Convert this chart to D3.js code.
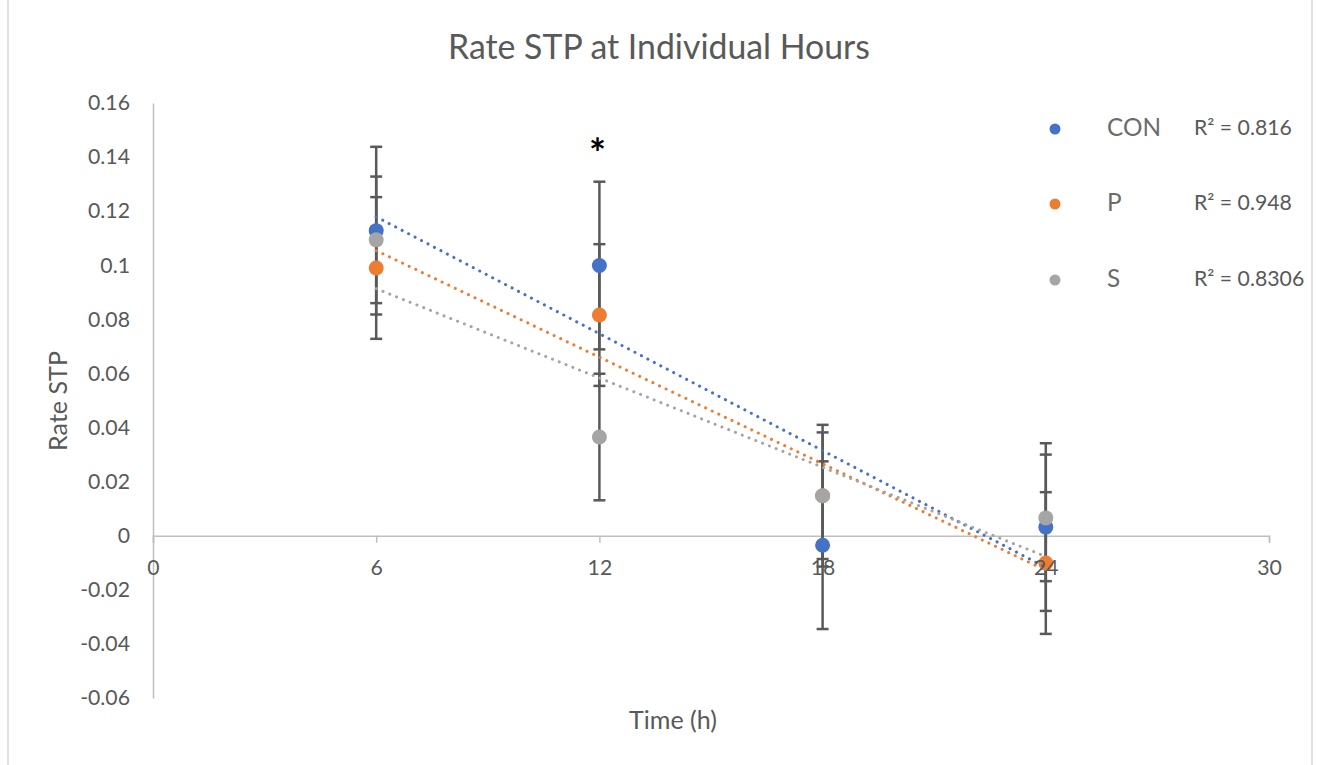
<!DOCTYPE html>
<html>
<head>
<meta charset="utf-8">
<script src="https://cdn.jsdelivr.net/npm/d3@7"></script>
<style>
  html, body { margin: 0; padding: 0; background: #fff; }
  svg { display: block; }
  text { font-family: "Lato", "Open Sans", sans-serif; }
</style>
</head>
<body>
<svg id="chart" width="1317" height="765"></svg>
<script>
// ---------------- data ----------------
const hours = [6, 12, 18, 24];
const seriesNames = ["CON", "P", "S"];
const conValues = [0.1128, 0.0999, -0.0035, 0.0032];
const pValues   = [0.0990, 0.0816, 0.0148, -0.0101];
const sValues   = [0.1094, 0.0365, 0.0148, 0.0066];
const conErr = [0.0310, 0.0310, 0.0310, 0.0310];
const pErr   = [0.0262, 0.0262, 0.0262, 0.0262];
const sErr   = [0.0234, 0.0234, 0.0234, 0.0234];
const r2Labels = ["R² = 0.816", "R² = 0.948", "R² = 0.8306"];
const xTicks = [0, 6, 12, 18, 24, 30];
const yTicks = [-0.06, -0.04, -0.02, 0, 0.02, 0.04, 0.06, 0.08, 0.1, 0.12, 0.14, 0.16];
const titleText = "Rate STP at Individual Hours";
const xTitle = "Time (h)";
const yTitle = "Rate STP";
const significanceMark = { hour: 12, value: 0.1435, label: "*" };

const colors = ["#4472C4", "#ED7D31", "#A5A5A5"];
const series = [
  { name: seriesNames[0], values: conValues, err: conErr, color: colors[0], r2: r2Labels[0] },
  { name: seriesNames[1], values: pValues,   err: pErr,   color: colors[1], r2: r2Labels[1] },
  { name: seriesNames[2], values: sValues,   err: sErr,   color: colors[2], r2: r2Labels[2] }
];

// ---------------- layout ----------------
const svg = d3.select("#chart");
const W = 1317, H = 765;
const x = d3.scaleLinear().domain([0, 30]).range([153, 1269]);
const y = d3.scaleLinear().domain([-0.06, 0.16]).range([698, 103]);
const textColor = "#595959";
const numFmt = d => String(+(+d).toFixed(2)); // plain hyphen minus like Excel

function fitFont(sel, target) {
  sel.style("font-size", "20px");
  const len = sel.node().getComputedTextLength();
  const size = 20 * target / len;
  sel.style("font-size", size + "px");
  return size;
}

// chart border
svg.append("line").attr("x1", 8).attr("x2", 8).attr("y1", 0).attr("y2", H)
  .attr("stroke", "#d9d9d9").attr("stroke-width", 1.5);
svg.append("line").attr("x1", 1312).attr("x2", 1312).attr("y1", 0).attr("y2", H)
  .attr("stroke", "#d9d9d9").attr("stroke-width", 1.5);

// title
const title = svg.append("text").attr("x", 659).attr("y", 59)
  .attr("text-anchor", "middle").attr("fill", textColor).text(titleText);
fitFont(title, 422);

// measure tick font size
const probe = svg.append("text").text("0.16");
const tickSize = fitFont(probe, 42);
probe.remove();

// ---------------- axes (lines) ----------------
const xAxisG = svg.append("g").attr("transform", `translate(0,${y(0)})`)
  .call(d3.axisBottom(x).tickValues(xTicks).tickSize(7).tickFormat(""));
xAxisG.select(".domain").attr("stroke", "#bfbfbf").attr("stroke-width", 1.5);
xAxisG.selectAll(".tick line").attr("stroke", "#bfbfbf").attr("stroke-width", 1.5);

const yAxisG = svg.append("g").attr("transform", `translate(${x(0)},0)`)
  .call(d3.axisLeft(y).tickValues(yTicks).tickSize(0).tickPadding(23).tickFormat(numFmt));
yAxisG.select(".domain").attr("stroke", "#bfbfbf").attr("stroke-width", 1.5);
yAxisG.selectAll(".tick text").attr("fill", textColor)
  .style("font-size", tickSize + "px").style("font-family", "Lato, 'Open Sans', sans-serif");

// ---------------- error bars ----------------
const errG = svg.append("g");
series.forEach(s => {
  hours.forEach((h, i) => {
    const v = s.values[i], e = s.err[i];
    const cx = x(h);
    errG.append("line").attr("x1", cx).attr("x2", cx)
      .attr("y1", y(v - e)).attr("y2", y(v + e))
      .attr("stroke", "#595959").attr("stroke-width", 2.5);
    [v - e, v + e].forEach(t => {
      errG.append("line").attr("x1", cx - 6).attr("x2", cx + 6)
        .attr("y1", y(t)).attr("y2", y(t))
        .attr("stroke", "#595959").attr("stroke-width", 2.5);
    });
  });
});

// ---------------- markers ----------------
const markG = svg.append("g");
series.forEach(s => {
  markG.selectAll(null).data(hours.map((h, i) => ({ h, v: s.values[i] })))
    .enter().append("circle")
    .attr("cx", d => x(d.h)).attr("cy", d => y(d.v)).attr("r", 7.5)
    .attr("fill", s.color);
});

// ---------------- linear trend lines ----------------
const trendG = svg.append("g");
series.forEach(s => {
  const mx = d3.mean(hours), my = d3.mean(s.values);
  let sxy = 0, sxx = 0;
  hours.forEach((h, i) => { sxy += (h - mx) * (s.values[i] - my); sxx += (h - mx) * (h - mx); });
  const slope = sxy / sxx, icpt = my - slope * mx;
  const ends = [d3.min(hours), d3.max(hours)];
  trendG.append("line")
    .attr("x1", x(ends[0])).attr("y1", y(icpt + slope * ends[0]))
    .attr("x2", x(ends[1])).attr("y2", y(icpt + slope * ends[1]))
    .attr("stroke", s.color).attr("stroke-width", 3)
    .attr("stroke-linecap", "round").attr("stroke-dasharray", "0.1 7.2");
});

// ---------------- x tick labels (on top) ----------------
const xLab = svg.append("g").attr("transform", `translate(0,${y(0)})`)
  .call(d3.axisBottom(x).tickValues(xTicks).tickSize(0).tickFormat(d3.format("d")));
xLab.select(".domain").remove();
xLab.selectAll(".tick text").attr("fill", textColor).attr("y", 39).attr("dy", 0)
  .style("font-size", tickSize + "px").style("font-family", "Lato, 'Open Sans', sans-serif");

// ---------------- axis titles ----------------
const xt = svg.append("text").attr("x", 673).attr("y", 729)
  .attr("text-anchor", "middle").attr("fill", textColor).text(xTitle);
const axisTitleSize = fitFont(xt, 88);
svg.append("text").attr("transform", "translate(67,401) rotate(-90)")
  .attr("text-anchor", "middle").attr("fill", textColor)
  .style("font-size", axisTitleSize + "px").text(yTitle);

// significance mark
svg.append("text").attr("x", x(significanceMark.hour) - 2).attr("y", y(significanceMark.value) + 20)
  .attr("text-anchor", "middle").attr("fill", "#000").style("font-weight", "bold")
  .style("font-size", "40px").text(significanceMark.label);

// ---------------- legend ----------------
const legendY = [129, 204, 280];
const legG = svg.append("g");
const probe2 = svg.append("text").text(seriesNames[0]);
const legNameSize = fitFont(probe2, 54);
probe2.text(r2Labels[0]);
const r2Size = fitFont(probe2, 98);
probe2.remove();
series.forEach((s, i) => {
  legG.append("circle").attr("cx", 1055).attr("cy", legendY[i]).attr("r", 5.5).attr("fill", s.color);
  legG.append("text").attr("x", 1107).attr("y", legendY[i] + 7)
    .attr("fill", "#6b6b6b").style("font-size", legNameSize + "px").text(s.name);
  legG.append("text").attr("x", 1194).attr("y", legendY[i] + 6)
    .attr("fill", textColor).style("font-size", r2Size + "px").text(s.r2);
});
</script>
</body>
</html>
